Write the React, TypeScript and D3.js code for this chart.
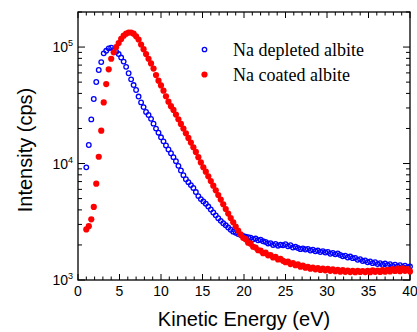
import React from "react";
import * as d3 from "d3";

// Kinetic energy grid (eV)
const energies: number[] = d3.range(131).map((i) => +(1 + 0.3 * i).toFixed(2));

// Na depleted albite (cps)
const depleted: number[] = [
  9270, 14420, 23930, 35810, 50120, 63530, 74300, 88310, 92900, 97500,
  98900, 94400, 91200, 87100, 81300, 75000, 67600, 59600, 52800, 47200,
  42800, 37600, 33500, 30500, 27700, 26100, 24200, 22000, 19950, 18400,
  16800, 15500, 14300, 13200, 12250, 11350, 10470, 9550, 8710, 7940,
  7330, 6920, 6530, 6170, 5690, 5250, 4950, 4730, 4520, 4270,
  4030, 3800, 3590, 3390, 3220, 3070, 2950, 2820, 2700, 2600,
  2540, 2480, 2430, 2390, 2355, 2335, 2310, 2240, 2270, 2195,
  2215, 2150, 2120, 2060, 2075, 2000, 2040, 1970, 2010, 1990,
  2030, 1950, 1990, 1900, 1930, 1880, 1840, 1870, 1825, 1850,
  1790, 1820, 1765, 1790, 1740, 1770, 1720, 1740, 1680, 1705,
  1660, 1690, 1640, 1600, 1620, 1560, 1590, 1540, 1550, 1490,
  1510, 1455, 1470, 1420, 1445, 1395, 1420, 1370, 1395, 1350,
  1385, 1340, 1370, 1320, 1355, 1305, 1340, 1295, 1325, 1290,
  1305,
];

// Na coated albite (cps)
const coated: number[] = [
  2720, 2900, 3320, 4240, 6710, 11430, 19140, 33500, 48100, 64400,
  79400, 90200, 100000, 108400, 117500, 125300, 130300, 133400, 133400, 130300,
  123600, 116100, 105200, 95900, 87100, 79400, 72400, 65300, 57500, 51500,
  46800, 42200, 37800, 34000, 31050, 28840, 26300, 23990, 21880, 19950,
  18200, 16600, 15140, 13800, 12590, 11350, 10230, 9290, 8510, 7760,
  7080, 6460, 5890, 5370, 4900, 4470, 4070, 3720, 3400, 3130,
  2880, 2660, 2470, 2300, 2240, 2090, 2050, 1930, 1900, 1800,
  1790, 1700, 1720, 1630, 1640, 1560, 1580, 1500, 1520, 1460,
  1420, 1440, 1370, 1400, 1340, 1365, 1300, 1330, 1275, 1300,
  1250, 1280, 1235, 1265, 1220, 1250, 1210, 1245, 1200, 1235,
  1190, 1225, 1180, 1215, 1175, 1205, 1170, 1200, 1168, 1198,
  1172, 1195, 1170, 1200, 1168, 1210, 1175, 1205, 1172, 1215,
  1180, 1220, 1185, 1240, 1195, 1250, 1190, 1260, 1200, 1240,
  1185,
];

const xTicks: number[] = [0, 5, 10, 15, 20, 25, 30, 35, 40];
const yDecades: number[] = [3, 4, 5];
const legendLabels: string[] = ["Na depleted albite", "Na coated albite"];

const W = 417;
const H = 332;
const M = { left: 78, right: 410, top: 12, bottom: 280 };

export default function App() {
  const x = d3.scaleLinear().domain([0, 40]).range([M.left, M.right]);
  const y = d3.scaleLog().domain([1000, 200000]).range([M.bottom, M.top]);

  const xMinor = d3.range(0, 41, 1);
  const yMinor: number[] = [];
  [1000, 10000, 100000].forEach((d) => {
    for (let k = 2; k <= 9; k++) {
      const v = d * k;
      if (v <= 200000) yMinor.push(v);
    }
  });

  const axisColor = "#000";
  const sans = "'Liberation Sans', Arial, sans-serif";
  const serif = "'Liberation Serif', 'Times New Roman', serif";

  return (
    <div style={{ position: "fixed", left: 0, top: 0 }}>
      <svg width={W} height={H} style={{ display: "block", background: "#fff" }}>
        {xMinor.map((v) => {
          const major = v % 5 === 0;
          const len = major ? 6 : 3.5;
          return (
            <g key={"xt" + v}>
              <line x1={x(v)} x2={x(v)} y1={M.bottom} y2={M.bottom - len} stroke={axisColor} strokeWidth={1} />
              <line x1={x(v)} x2={x(v)} y1={M.top} y2={M.top + len} stroke={axisColor} strokeWidth={1} />
            </g>
          );
        })}
        {yDecades.map((p) => {
          const v = Math.pow(10, p);
          return (
            <g key={"yt" + p}>
              <line x1={M.left} x2={M.left + 7} y1={y(v)} y2={y(v)} stroke={axisColor} strokeWidth={1} />
              <line x1={M.right} x2={M.right - 7} y1={y(v)} y2={y(v)} stroke={axisColor} strokeWidth={1} />
            </g>
          );
        })}
        {yMinor.map((v) => (
          <g key={"ym" + v}>
            <line x1={M.left} x2={M.left + 4} y1={y(v)} y2={y(v)} stroke={axisColor} strokeWidth={1} />
            <line x1={M.right} x2={M.right - 4} y1={y(v)} y2={y(v)} stroke={axisColor} strokeWidth={1} />
          </g>
        ))}
        <rect x={M.left} y={M.top} width={M.right - M.left} height={M.bottom - M.top} fill="none" stroke={axisColor} strokeWidth={1.3} />

        {xTicks.map((v) => (
          <text key={"xl" + v} x={x(v)} y={M.bottom + 16} textAnchor="middle" fontFamily={sans} fontSize={14} fill="#000">
            {v}
          </text>
        ))}
        {yDecades.map((p) => (
          <text key={"yl" + p} x={M.left - 5} y={y(Math.pow(10, p)) + 5} textAnchor="end" fontFamily={sans} fontSize={14} fill="#000">
            10
            <tspan fontSize={9} dy={-6}>{p}</tspan>
          </text>
        ))}

        <text x={(M.left + M.right) / 2} y={326} textAnchor="middle" fontFamily={sans} fontSize={20} fill="#000">
          Kinetic Energy (eV)
        </text>
        <text
          transform={`translate(32, ${(M.top + M.bottom) / 2 + 4}) rotate(-90)`}
          textAnchor="middle"
          fontFamily={sans}
          fontSize={20}
          fill="#000"
        >
          Intensity (cps)
        </text>

        <g>
          {depleted.map((v, i) => (
            <circle key={"b" + i} cx={x(energies[i])} cy={y(v)} r={2.3} fill="none" stroke="#0000ff" strokeWidth={1.3} />
          ))}
        </g>
        <g>
          {coated.map((v, i) => (
            <circle key={"r" + i} cx={x(energies[i])} cy={y(v)} r={3.1} fill="#ff0000" />
          ))}
        </g>

        <circle cx={204.5} cy={49.5} r={2.2} fill="none" stroke="#0000ff" strokeWidth={1.3} />
        <text x={233} y={56} fontFamily={serif} fontSize={18} fill="#000">{legendLabels[0]}</text>
        <circle cx={204.5} cy={74.5} r={3.1} fill="#ff0000" />
        <text x={233} y={81} fontFamily={serif} fontSize={18} fill="#000">{legendLabels[1]}</text>
      </svg>
    </div>
  );
}
